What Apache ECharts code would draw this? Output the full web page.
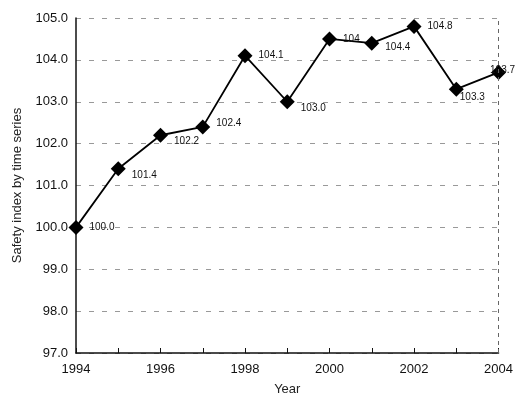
<!DOCTYPE html>
<html>
<head>
<meta charset="UTF-8">
<script src="https://cdn.jsdelivr.net/npm/echarts@6/dist/echarts.min.js"></script>
<style>html,body{margin:0;height:100%;background:#fff}#main{width:516px;height:405px}</style>
</head>
<body>
<div id="main"></div>
<script>
const chart = echarts.init(document.getElementById('main'));
const years = [1994, 1995, 1996, 1997, 1998, 1999, 2000, 2001, 2002, 2003, 2004];
const safetyIndex = [100.0, 101.4, 102.2, 102.4, 104.1, 103.0, 104.5, 104.4, 104.8, 103.3, 103.7];
const labels = ['100.0', '101.4', '102.2', '102.4', '104.1', '103.0', '104', '104.4', '104.8', '103.3', '103.7'];
// label offset [dx, dy] per point
const labelOffsets = [[0, 0], [0, 6], [0, 6], [0, -4], [0, 0], [0, 6], [0, 0], [0, 4], [0, 0], [-10, 8], [-22, -2]];
const font = 'Liberation Sans, Arial, sans-serif';

chart.setOption({
    animation: false,
    grid: {left: 76, right: 17, top: 18, bottom: 52, show: false},
    xAxis: {
        type: 'value', min: 1994, max: 2004, interval: 2,
        name: 'Year', nameLocation: 'middle', nameGap: 30,
        nameTextStyle: {color: '#222', fontSize: 13, fontFamily: font},
        axisLine: {lineStyle: {color: '#111', width: 1.5}},
        axisTick: {inside: true, length: 5, lineStyle: {color: '#111'}},
        minorTick: {show: true, splitNumber: 2, length: 5, lineStyle: {color: '#111'}},
        axisLabel: {color: '#111', fontSize: 13, fontFamily: font, margin: 10, formatter: v => String(v)},
        splitLine: {show: false}
    },
    yAxis: {
        type: 'value', min: 97, max: 105, interval: 1,
        name: 'Safety index by time series', nameLocation: 'middle', nameGap: 52,
        nameTextStyle: {color: '#222', fontSize: 13, fontFamily: font},
        axisLine: {show: true, lineStyle: {color: '#111', width: 1.5}},
        axisTick: {show: false},
        axisLabel: {color: '#111', fontSize: 13, fontFamily: font, formatter: v => v.toFixed(1)},
        splitLine: {lineStyle: {color: '#999', type: [5, 8], width: 1}}
    },
    series: [{
        type: 'line',
        data: years.map((y, i) => ({
            value: [y, safetyIndex[i]],
            label: {offset: labelOffsets[i]}
        })),
        symbol: 'diamond', symbolSize: 15,
        itemStyle: {color: '#000'},
        lineStyle: {color: '#000', width: 1.8},
        label: {
            show: true, position: 'right', distance: 6, color: '#111', fontSize: 10, fontFamily: font,
            formatter: p => labels[p.dataIndex]
        },
        markLine: {
            silent: true, symbol: 'none', label: {show: false},
            lineStyle: {color: '#666', type: [4, 4], width: 1},
            data: [{xAxis: 2004}]
        }
    }]
});
</script>
</body>
</html>
